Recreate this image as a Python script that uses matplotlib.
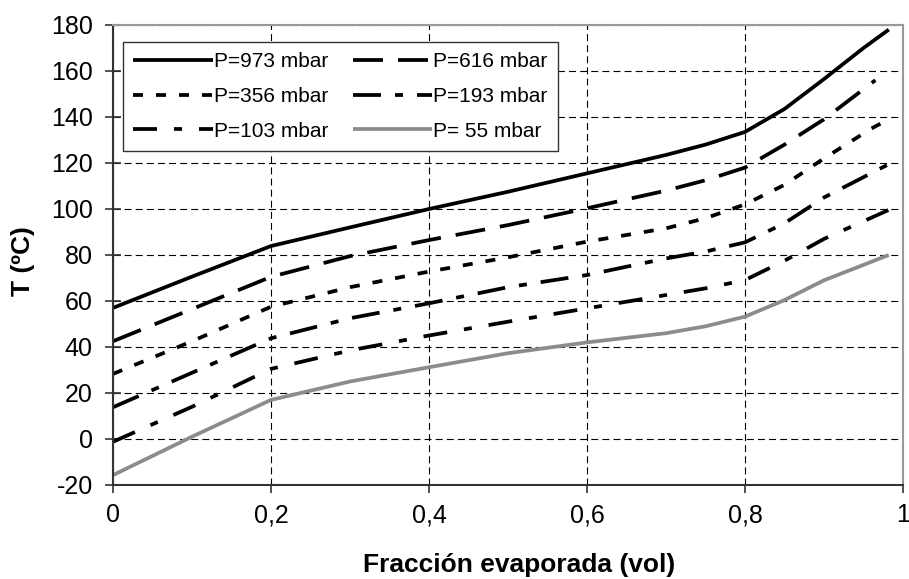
import matplotlib
matplotlib.use("Agg")
import matplotlib.pyplot as plt

plt.rcParams['font.family'] = ['Liberation Sans', 'DejaVu Sans']
plt.rcParams['lines.scale_dashes'] = False
plt.rcParams['axes.unicode_minus'] = False

# ---- data ----
labels = ["P=973 mbar", "P=616 mbar", "P=356 mbar", "P=193 mbar", "P=103 mbar", "P= 55 mbar"]

x_973 = [0, 0.1, 0.2, 0.3, 0.4, 0.5, 0.6, 0.7, 0.75, 0.8, 0.85, 0.9, 0.95, 0.982]
y_973 = [57, 70.6, 83.9, 92, 100, 107.5, 115.5, 123.5, 128, 133.5, 143.5, 156.5, 170, 178]

x_616 = [0, 0.1, 0.2, 0.3, 0.4, 0.5, 0.6, 0.7, 0.75, 0.8, 0.85, 0.9, 0.965]
y_616 = [42.5, 56.5, 70.5, 79.5, 86.5, 93, 100.3, 108, 112.5, 118, 128, 139, 156]

x_356 = [0, 0.1, 0.2, 0.3, 0.4, 0.5, 0.6, 0.7, 0.75, 0.8, 0.85, 0.9, 0.96, 0.982]
y_356 = [28.3, 42.5, 57.5, 66, 72.8, 79, 85.8, 91.6, 96, 102, 110.5, 122, 135, 139]

x_193 = [0, 0.1, 0.2, 0.3, 0.4, 0.5, 0.6, 0.7, 0.75, 0.8, 0.85, 0.9, 0.982]
y_193 = [13.8, 28.8, 43.8, 52.5, 59, 66, 71.3, 78.5, 81.5, 85.5, 93.8, 105, 119.5]

x_103 = [0, 0.1, 0.2, 0.3, 0.4, 0.5, 0.6, 0.7, 0.75, 0.8, 0.85, 0.9, 0.982]
y_103 = [-1.2, 14, 30.5, 38.5, 45, 51, 56.8, 62.6, 65.5, 69.1, 77.5, 87, 99.6]

x_55 = [0, 0.1, 0.2, 0.3, 0.4, 0.5, 0.6, 0.7, 0.75, 0.8, 0.85, 0.9, 0.982]
y_55 = [-15.7, 1, 17, 25, 31.2, 37.3, 42, 46, 49, 53.2, 60.4, 69, 80]

xticks = [0, 0.2, 0.4, 0.6, 0.8, 1.0]
xticklabels = ["0", "0,2", "0,4", "0,6", "0,8", "1"]
yticks = list(range(-20, 181, 20))

# ---- styles (in points) ----
px = 72 / 100.0
styles = [
    dict(color='black', ls='-'),
    dict(color='black', ls=(0, (30 * px, 15 * px))),
    dict(color='black', ls=(0, (10 * px, 13 * px))),
    dict(color='black', ls=(0, (28 * px, 14 * px, 8 * px, 14 * px))),
    dict(color='black', ls=(0, (24 * px, 17 * px, 8 * px, 17 * px))),
    dict(color='#8c8c8c', ls='-'),
]
series = [(x_973, y_973), (x_616, y_616), (x_356, y_356),
          (x_193, y_193), (x_103, y_103), (x_55, y_55)]

fig = plt.figure(figsize=(9.09, 5.79), dpi=100)
ax = fig.add_axes([113 / 909, 1 - 485 / 579, 790 / 909, 460 / 579])

handles = []
for (xs, ys), st, lab in zip(series, styles, labels):
    h, = ax.plot(xs, ys, color=st['color'], linestyle=st['ls'], linewidth=2.7,
                 dash_capstyle='butt', solid_capstyle='butt', label=lab)
    handles.append(h)

ax.set_xlim(0, 1)
ax.set_ylim(-20, 180)
ax.set_xticks(xticks)
ax.set_xticklabels(xticklabels)
ax.set_yticks(yticks)

ax.grid(True, color='black', linestyle=(0, (5, 3)), linewidth=0.8)
ax.set_axisbelow(True)

for s in ['top', 'right']:
    ax.spines[s].set_color('#999999')
    ax.spines[s].set_linewidth(1.5)
for s in ['left', 'bottom']:
    ax.spines[s].set_color('#333333')
    ax.spines[s].set_linewidth(1.5)

ax.tick_params(axis='y', direction='inout', length=12, width=1.2, color='#333333',
               labelsize=18, pad=8.5)
ax.tick_params(axis='x', direction='out', length=6, width=1.2, color='#333333',
               labelsize=18, pad=7)

ax.set_xlabel("Fracción evaporada (vol)", fontsize=19, fontweight='bold', va='center')
ax.xaxis.set_label_coords(0.514, -0.174)
ax.set_ylabel("T (ºC)", fontsize=19, fontweight='bold', va='center')
ax.yaxis.set_label_coords(-0.114, 0.487)

# row-wise legend order (matplotlib fills column-wise)
order = [0, 2, 4, 1, 3, 5]
leg = ax.legend([handles[i] for i in order], [labels[i] for i in order],
                ncol=2, loc='upper left', bbox_to_anchor=(10 / 790, 1 - 17 / 460),
                fontsize=15, frameon=True, fancybox=False, shadow=False,
                handlelength=3.8, handletextpad=0.05, columnspacing=1.2,
                labelspacing=0.75, borderpad=0.5, borderaxespad=0)
leg.get_frame().set_edgecolor('#333333')
leg.get_frame().set_linewidth(1.0)
leg.get_frame().set_alpha(1)

fig.savefig("out.png", dpi=100)
